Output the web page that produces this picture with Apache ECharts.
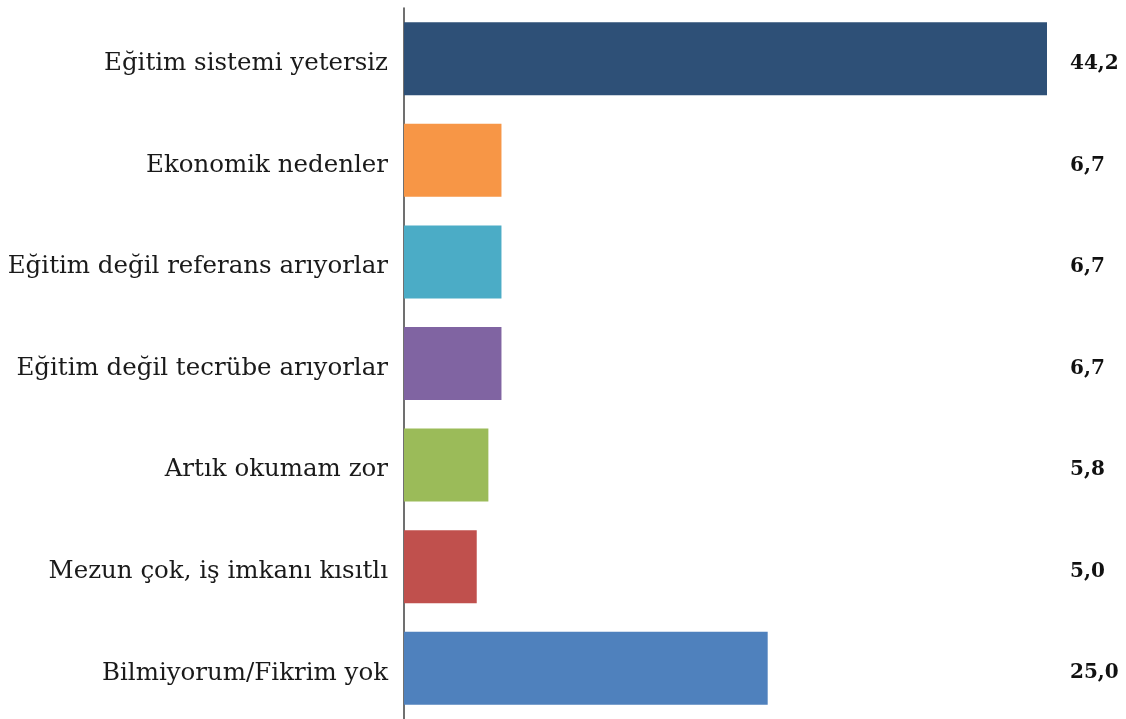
<!DOCTYPE html>
<html>
<head>
<meta charset="utf-8">
<script src="https://cdn.jsdelivr.net/npm/echarts@6/dist/echarts.min.js"></script>
<style>
  html, body { margin: 0; padding: 0; background: #fff; }
  #chart { width: 1126px; height: 719px; }
</style>
</head>
<body>
<div id="chart"></div>
<script>
// Reasons, top to bottom
const categories = [
  'Eğitim sistemi yetersiz',
  'Ekonomik nedenler',
  'Eğitim değil referans arıyorlar',
  'Eğitim değil tecrübe arıyorlar',
  'Artık okumam zor',
  'Mezun çok, iş imkanı kısıtlı',
  'Bilmiyorum/Fikrim yok'
];
const values = [44.2, 6.7, 6.7, 6.7, 5.8, 5.0, 25.0];
const colors = ['#2E5077', '#F79646', '#4BACC6', '#8064A2', '#9BBB59', '#C0504D', '#4F81BD'];

const maxValue = Math.max(...values);
const fmt = v => v.toFixed(1).replace('.', ',');

const chart = echarts.init(document.getElementById('chart'));
chart.setOption({
  animation: false,
  grid: { left: 404, right: 1126 - 1047, top: 8, bottom: -7, containLabel: false },
  xAxis: {
    type: 'value', min: 0, max: maxValue,
    show: false
  },
  yAxis: {
    type: 'category',
    data: categories,
    inverse: true,
    axisLine: { show: true, lineStyle: { color: '#404040', width: 1.5 } },
    axisTick: { show: false },
    axisLabel: {
      margin: 16,
      formatter: v => '{t|' + v + '}',
      rich: {
        t: {
          fontFamily: 'DejaVu Serif',
          fontSize: 24.5,
          color: '#1a1a1a',
          padding: [10, 0, 0, 0]
        }
      }
    }
  },
  series: [
    {
      type: 'bar',
      data: values.map((v, i) => ({ value: v, itemStyle: { color: colors[i] } })),
      barWidth: 73,
      z: 2
    },
    {
      // invisible full-width track carrying the value labels at the right edge
      type: 'bar',
      data: values.map(() => maxValue),
      barWidth: 73,
      barGap: '-100%',
      itemStyle: { color: 'rgba(0,0,0,0)' },
      silent: true,
      z: 1,
      label: {
        show: true,
        position: 'right',
        distance: 23,
        offset: [0, 5],
        formatter: p => fmt(values[p.dataIndex]),
        fontFamily: 'DejaVu Serif',
        fontWeight: 'bold',
        fontSize: 20,
        color: '#111'
      }
    }
  ]
});
</script>
</body>
</html>
